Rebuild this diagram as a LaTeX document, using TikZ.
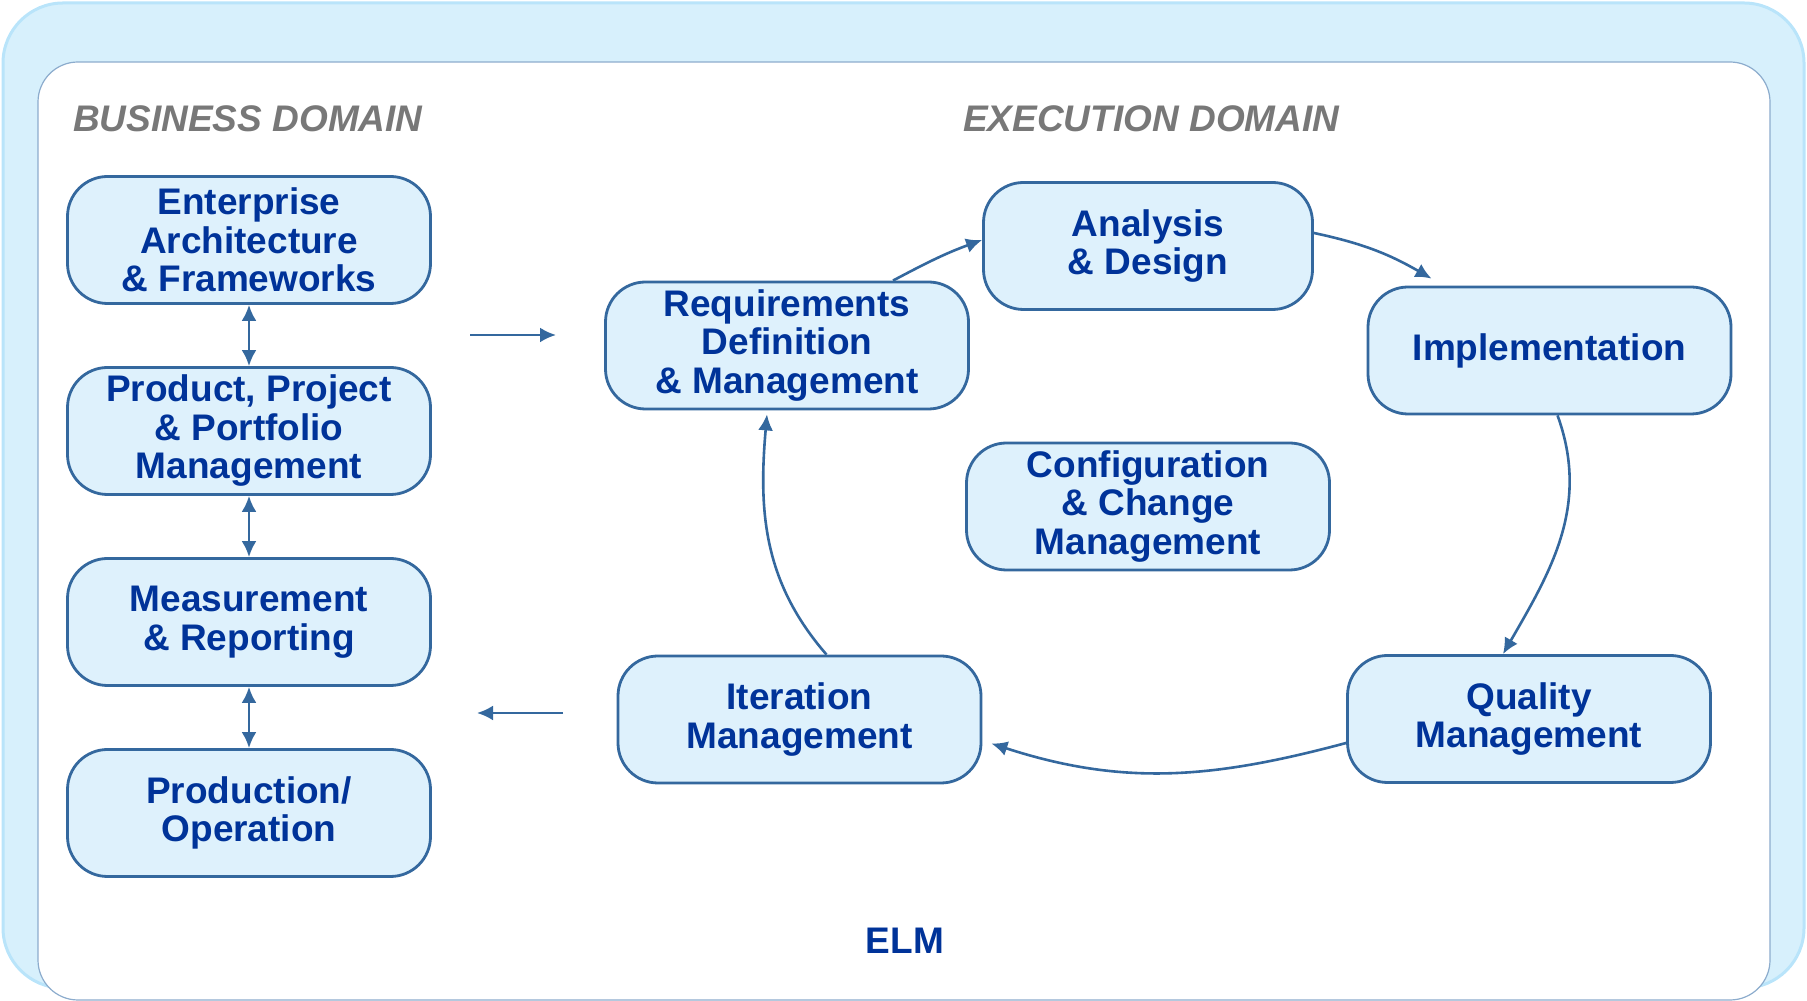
\documentclass[tikz,border=0pt]{standalone}
\usepackage{fontspec}
\setmainfont{Liberation Sans}
\usetikzlibrary{positioning}
\usetikzlibrary{arrows.meta}
\usetikzlibrary{calc}

\definecolor{frameblue}{RGB}{215,240,252}
\definecolor{frameline}{RGB}{185,228,250}
\definecolor{panelline}{RGB}{140,172,205}
\definecolor{boxfill}{RGB}{222,241,252}
\definecolor{boxline}{RGB}{52,104,158}
\definecolor{txtblue}{RGB}{0,51,153}
\definecolor{titlegray}{RGB}{120,120,120}

\begin{document}
\begin{tikzpicture}[x=1pt, y=1pt, >={Latex[length=16pt,width=15pt]},
  box/.style={draw=boxline, line width=2.8pt, fill=boxfill, rounded corners=40pt,
    minimum width=363pt, minimum height=127pt, inner sep=0pt, align=center,
    text=txtblue, font=\fontsize{37}{38.5}\selectfont\bfseries},
  link/.style={draw=boxline, line width=2.6pt, ->},
  domtitle/.style={text=titlegray, font=\fontsize{37}{40}\selectfont\bfseries\itshape,
    anchor=base west, inner sep=0pt}]

 \useasboundingbox (0,0) rectangle (1807,1001);

 % frame
 \draw[fill=frameblue, draw=frameline, line width=3pt, rounded corners=60pt] (3,13) rectangle (1804,998);
 \draw[fill=white, draw=panelline, line width=1.2pt, rounded corners=40pt] (38,1) rectangle (1770,939);

 \node[domtitle] (bd) at (73,869) {BUSINESS DOMAIN};
 \node[domtitle] (ed) at (963,869) {EXECUTION DOMAIN};

 % business side
 \node[box] (ea) at (249,761) {Enterprise\\Architecture\\\& Frameworks};
 \node[box] (ppm) at (249,570) {Product, Project\\\& Portfolio\\Management};
 \node[box] (mr) at (249,379) {Measurement\\\& Reporting};
 \node[box] (po) at (249,188) {Production/\\Operation};

 \foreach \a/\b in {ea/ppm, ppm/mr, mr/po}
 	\draw[link, <->] (\a) -- (\b);

 % execution side
 \node[box] (req) at (787,655.5) {Requirements\\Definition\\\& Management};
 \node[box, minimum width=329pt] (ad) at (1148,755) {Analysis\\\& Design};
 \node[box] (impl) at (1549.5,650.5) {Implementation};
 \node[box] (ccm) at (1148,494.5) {Configuration\\\& Change\\Management};
 \node[box] (itm) at (799.5,281.5) {Iteration\\Management};
 \node[box] (qm) at (1529,282) {Quality\\Management};

 % lines
 \draw[link] ([xshift=106pt]req.north) to [out=28, in=200] ([yshift=6pt]ad.west);
 \draw[link] ([yshift=13pt]ad.east) to [out=-12, in=150] ([xshift=-118pt,yshift=7pt]impl.north);
 \draw[link] ([xshift=8pt]impl.south) to [out=-70, in=60] ([xshift=-26pt]qm.north);
 \draw[link] ([yshift=-24pt]qm.west) to [out=195, in=-18] ([xshift=9pt,yshift=-24pt]itm.east);
 \draw[link] ([xshift=27pt]itm.north) to [out=131, in=-95] ([xshift=-20pt,yshift=-4pt]req.south);

 \coordinate (toE1) at (470,666);
 \coordinate (toE2) at (556,666);
 \coordinate (toB1) at (563,288);
 \coordinate (toB2) at (477,288);
 \draw[link] (toE1) -- (toE2);
 \draw[link] (toB1) -- (toB2);

 \node[text=txtblue, font=\fontsize{37}{40}\selectfont\bfseries] (elm) at (905,60) {ELM};

\end{tikzpicture}
\end{document}
